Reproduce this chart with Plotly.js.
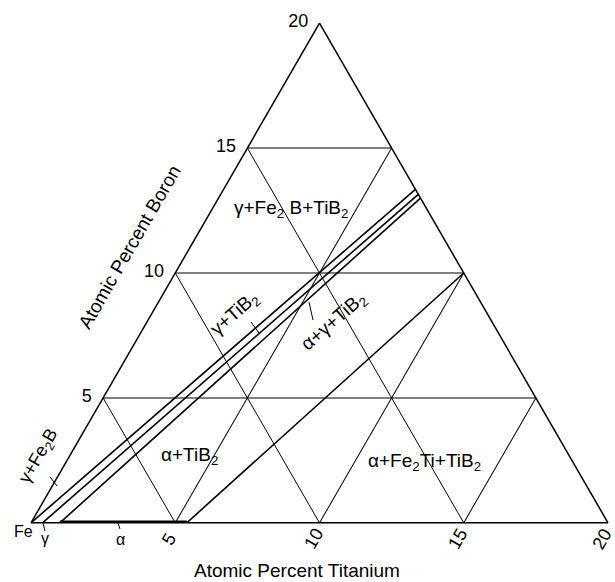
<!DOCTYPE html>
<html>
<head>
<meta charset="utf-8">
<script src="https://cdn.plot.ly/plotly-3.0.1.min.js"></script>
<style>html,body{margin:0;padding:0;background:#fff;}#chart{width:615px;height:582px;}</style>
</head>
<body>
<div id="chart"></div>
<script>
// ---- Data (atomic percent) ----
const tickValues = [5, 10, 15, 20];
const tickLabels = ['5', '10', '15', '20'];
// phase boundary lines: Ti and B values of end points
const upperLineTi = [0, 6.65];
const upperLineB = [0, 13.35];
const middleLineTi = [0.4, 6.85];
const middleLineB = [0, 13.15];
const lowerLineTi = [1.0, 7.0];
const lowerLineB = [0, 13.0];
const fe2tiLineTi = [5.4, 10.0];
const fe2tiLineB = [0, 10.0];
// single-phase alpha range on Fe-Ti binary
const alphaTi = [1.0, 5.4];
const alphaB = [0, 0];

const W = 615, H = 582;
// triangle placement (pixels)
const X0 = 31, X1 = 608, Y0 = 523, YTOP = 23;

function fe(ti, b) { return ti.map((t, i) => 100 - t - b[i]); }
function line(ti, b, width) {
  return {
    type: 'scatterternary', mode: 'lines',
    a: b, b: fe(ti, b), c: ti,
    line: {color: '#000', width: width},
    hoverinfo: 'skip', cliponaxis: false
  };
}
const traces = [
  line(upperLineTi, upperLineB, 1.6),
  line(middleLineTi, middleLineB, 1.6),
  line(lowerLineTi, lowerLineB, 1.6),
  line(fe2tiLineTi, fe2tiLineB, 1.6),
  line(alphaTi, alphaB, 4.5)
];

const font = {family: 'Liberation Sans, Arial, sans-serif', color: '#000'};
function ann(text, x, y, size, angle) {
  return {text: text, xref: 'paper', yref: 'paper', x: x / W, y: 1 - y / H,
          showarrow: false, xanchor: 'center', yanchor: 'middle',
          textangle: angle || 0, font: Object.assign({}, font, {size: size})};
}
function seg(x0, y0, x1, y1) {
  return {type: 'line', xref: 'paper', yref: 'paper',
          x0: x0 / W, y0: 1 - y0 / H, x1: x1 / W, y1: 1 - y1 / H,
          line: {color: '#000', width: 1}};
}

const axisCommon = {
  linecolor: '#000', linewidth: 1.5, gridcolor: '#000', gridwidth: 1,
  showgrid: true, title: {text: ''},
  ticks: 'outside', ticklen: 8, tickcolor: 'rgba(0,0,0,0)',
  tickfont: Object.assign({}, font, {size: 18})
};

// bottom (titanium) tick labels, placed from tick values along the bottom edge
const tiTickAnns = tickValues.map((v, i) =>
  ann(tickLabels[i], X0 + (X1 - X0) * v / 20 - 6, 539, 18, -60));

const layout = {
  width: W, height: H,
  margin: {l: 0, r: 0, t: 0, b: 0},
  paper_bgcolor: '#fff',
  showlegend: false,
  hovermode: false,
  ternary: {
    sum: 100,
    domain: {x: [X0 / W, X1 / W], y: [(H - Y0) / H, (H - YTOP) / H]},
    bgcolor: '#fff',
    aaxis: Object.assign({}, axisCommon, {min: 0, tickmode: 'array', tickvals: tickValues, ticktext: tickLabels}),
    baxis: Object.assign({}, axisCommon, {min: 80, tickmode: 'array',
      tickvals: tickValues.map(v => 100 - v), showticklabels: false}),
    caxis: Object.assign({}, axisCommon, {min: 0, tickmode: 'array', tickvals: tickValues, showticklabels: false})
  },
  annotations: [
    ann('γ+Fe<sub>2</sub> B+TiB<sub>2</sub>', 291, 209, 19),
    ann('γ+TiB<sub>2</sub>', 235, 314, 19, -41),
    ann('α+γ+TiB<sub>2</sub>', 334, 322, 19, -41),
    ann('α+TiB<sub>2</sub>', 189, 456, 19),
    ann('α+Fe<sub>2</sub>Ti+TiB<sub>2</sub>', 424, 462, 19),
    ann('γ+Fe<sub>2</sub>B', 39, 456, 18, -60),
    ann('Fe', 23, 531, 16),
    ann('γ', 45, 538, 16),
    ann('α', 120, 539, 16),
    ann('Atomic Percent Boron', 129, 247, 19, -60),
    ann('Atomic Percent Titanium', 297, 570, 19)
  ].concat(tiTickAnns),
  shapes: [
    seg(50, 477, 57, 486),
    seg(251, 322, 259, 333),
    seg(309, 302, 313, 320),
    seg(43, 523, 45, 531),
    seg(118, 523, 120, 529)
  ]
};

Plotly.newPlot('chart', traces, layout, {displayModeBar: false, staticPlot: true});
</script>
</body>
</html>
